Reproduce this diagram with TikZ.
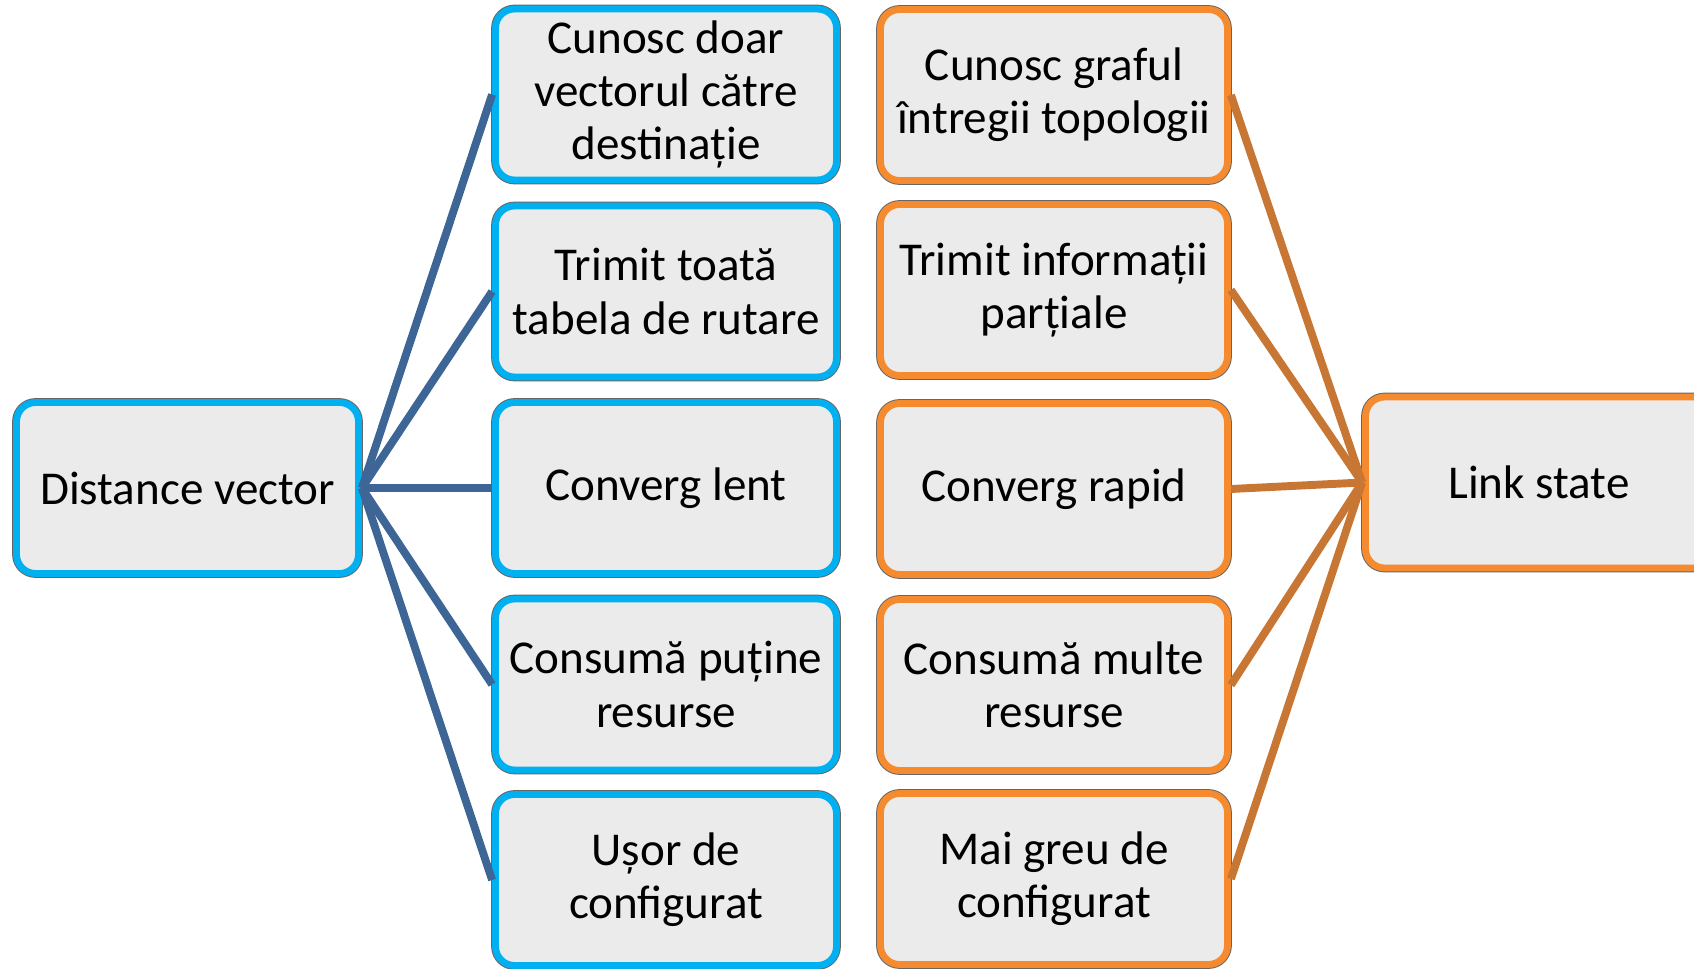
\documentclass[tikz,border=0pt]{standalone}
\usepackage{fontspec}
\setmainfont{Carlito}
\usetikzlibrary{shadows}
\definecolor{bluebd}{RGB}{0,176,240}
\definecolor{orangebd}{RGB}{246,138,46}
\definecolor{bluelink}{RGB}{61,101,150}
\definecolor{orangelink}{RGB}{200,118,52}
\definecolor{boxfill}{RGB}{235,235,235}
\tikzset{
  card/.style={rectangle, rounded corners=0.38cm, fill=boxfill,
    line width=3.9pt, align=center, inner sep=0pt,
    minimum height=3.42cm,
    font=\fontsize{26.8pt}{30.2pt}\selectfont,
    drop shadow={shadow xshift=1.2pt, shadow yshift=-1.8pt, fill=black, opacity=0.3},
    preaction={draw=black!60, line width=5pt}},
  bluecard/.style={card, draw=bluebd, minimum width=6.82cm},
  orangecard/.style={card, draw=orangebd, minimum width=6.94cm},
  bluelinkst/.style={draw=bluelink, line width=4.5pt},
  orangelinkst/.style={draw=orangelink, line width=4.5pt}
}
\begin{document}
\begin{tikzpicture}[x=0.02cm, y=-0.02cm]
\useasboundingbox (0,0) rectangle (1694,969);
\clip (0,0) rectangle (1694,969);
% nodes
\node[bluecard, minimum width=6.84cm] (dv) at (187.5,488) {Distance vector};
\node[bluecard] (b1) at (666,94.5) {Cunosc doar\\vectorul către\\destinație};
\node[bluecard] (b2) at (666,291.5) {Trimit toată\\tabela de rutare};
\node[bluecard] (b3) at (666,488) {Converg lent};
\node[bluecard] (b4) at (666,684.5) {Consumă puține\\resurse};
\node[bluecard] (b5) at (666,880) {Ușor de\\configurat};
\node[orangecard] (o1) at (1054,95) {Cunosc graful\\întregii topologii};
\node[orangecard] (o2) at (1054,290) {Trimit informații\\parțiale};
\node[orangecard] (o3) at (1054,489) {Converg rapid};
\node[orangecard] (o4) at (1054,685) {Consumă multe\\resurse};
\node[orangecard] (o5) at (1054,879) {Mai greu de\\configurat};
\node[orangecard] (ls) at (1539,482.5) {Link state};
% connectors
\foreach \n in {b1,b2,b3,b4,b5} {
  \draw[bluelinkst] (dv.east) -- (\n.west);
}
\foreach \n in {o1,o2,o3,o4,o5} {
  \draw[orangelinkst] (\n.east) -- (ls.west);
}
\end{tikzpicture}
\end{document}
